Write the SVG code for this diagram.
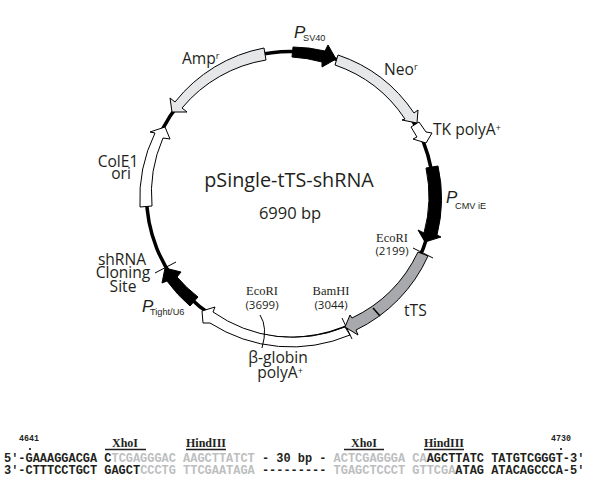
<svg xmlns="http://www.w3.org/2000/svg" width="597" height="498" viewBox="0 0 597 498">
<style>
text{font-family:"Open Sans","Liberation Sans",sans-serif;fill:#231f20;font-size:15.6px}
.c{text-anchor:middle}
.s{font-family:"Liberation Serif",serif;font-size:12.5px}
.n{font-size:11.5px}
.i{font-family:"Liberation Sans",sans-serif;font-style:italic;font-size:17px}
.u{font-family:"Liberation Sans",sans-serif;font-size:9.2px}
.q{font-family:"Liberation Mono",monospace;font-weight:bold;font-size:11.95px;white-space:pre}
.g{fill:#bcbec0}
.e{font-family:"Liberation Serif",serif;font-weight:bold;font-size:12px;text-anchor:middle}
.m{font-family:"Liberation Mono",monospace;font-weight:bold;font-size:8.3px;text-anchor:middle}
.f{stroke:#000;stroke-width:1;stroke-linejoin:miter}
.t{stroke:#000;stroke-width:1;fill:none}
</style>
<g id="connectors">
<circle cx="290" cy="195" r="143.5" fill="none" stroke="#000" stroke-width="3.5"/>
</g>
<g id="beta-globin"><path class="f" fill="#fff" d="M345,327A138,138 0 0 1 213,312L215,307L202,311L203,323L210,323A150,150 0 0 0 350,335Z"/>
<path class="t" d="M260,315Q268,327 262,348"/>
<path class="t" d="M342,318L352,339"/></g>
<g id="neo"><path class="f" fill="#e6e7e8" d="M338,55A149,149 0 0 1 414,113L418,110L417,123L402,120L405,119A138,138 0 0 0 335,65Z"/></g>
<g id="tk-polya"><path class="f" fill="#fff" d="M419,122L426,132L432,133L426,143L413,139L417,137L411,127Z"/></g>
<g id="p-cmv"><path class="f" fill="#000" d="M438,166A150,150 0 0 1 437,235L441,237L425,242L418,230L424,233A138,138 0 0 0 426,168Z"/></g>
<g id="tts"><path class="f" fill="#a7a9ac" d="M418,252A140,140 0 0 1 352,318L350,315L345,327L358,335L356,330A151,151 0 0 0 428,256Z"/>
<path d="M373,308L380,316" stroke="#000" stroke-width="1.5" fill="none"/>
<path class="t" d="M413,248L433,258"/></g>
<g id="p-tight"><path class="f" fill="#000" d="M198,297A138,138 0 0 1 177,277L181,272L165,268L162,283L167,281A150,150 0 0 0 190,306Z"/>
<path class="t" d="M155,273L176,262"/></g>
<g id="cole1"><path class="f" fill="#fff" d="M140,207A150,150 0 0 1 155,133L150,132L165,127L170,139L163,138A138,138 0 0 0 152,206Z"/></g>
<g id="amp"><path class="f" fill="#e6e7e8" d="M264,48A149,149 0 0 0 175,102L170,98L172,112L187,112L182,108A138,138 0 0 1 266,60Z"/></g>
<g id="p-sv40"><path class="f" fill="#000" d="M293,47A148,148 0 0 1 325,51L328,45L336,59L322,67L322,62A138,138 0 0 0 292,57Z"/></g>
<g id="labels">
<text class="c" x="289" y="187" style="font-size:19.8px">pSingle-tTS-shRNA</text>
<text class="c" x="290" y="219" style="font-size:16.5px">6990 bp</text>
<text x="182" y="64">Amp<tspan font-size="9" dy="-5">r</tspan></text>
<text class="i" x="294" y="38">P</text><text class="u" x="303" y="41">SV40</text>
<text x="384" y="75">Neo<tspan font-size="9" dy="-5">r</tspan></text>
<text x="433" y="135">TK polyA<tspan font-size="9" dy="-4">+</tspan></text>
<text class="i" x="446" y="203">P</text><text class="u" x="455" y="209">CMV iE</text>
<text class="s c" x="392" y="242">EcoRI</text><text class="n c" x="392" y="255">(2199)</text>
<text x="404" y="316">tTS</text>
<text class="s c" x="331" y="295">BamHI</text><text class="n c" x="331" y="309">(3044)</text>
<text class="s c" x="262" y="295">EcoRI</text><text class="n c" x="262" y="309">(3699)</text>
<text class="c" x="278" y="363">β-globin</text>
<text class="c" x="280" y="378">polyA<tspan font-size="9" dy="-4">+</tspan></text>
<text class="c" x="118" y="167">ColE1</text><text class="c" x="121" y="179">ori</text>
<text class="c" x="122" y="265">shRNA</text><text class="c" x="123" y="278">Cloning</text><text class="c" x="123" y="292">Site</text>
<text class="i" x="142" y="312">P</text><text class="u" x="150" y="315">Tight/U6</text>
</g>
<g id="sequence">
<text class="m" x="29" y="441">4641</text><circle cx="30" cy="449" r="1" fill="#000"/>
<text class="m" x="561" y="441">4730</text><circle cx="561" cy="449" r="1" fill="#000"/>
<text class="e" x="125" y="447">XhoI</text><text class="e" x="206" y="447">HindIII</text><text class="e" x="364" y="447">XhoI</text><text class="e" x="444" y="447">HindIII</text>
<path d="M105,449.5H146M186,449.5H226M344,449.5H384M424,449.5H464" stroke="#231f20" stroke-width="1.3" fill="none"/>
<text class="q" x="4" y="462">5′-GAAAGGACGA C<tspan class="g">TCGAGGGAC AAGCTTATCT</tspan> - 30 bp - <tspan class="g">ACTCGAGGGA CA</tspan>AGCTTATC TATGTCGGGT-3′</text>
<text class="q" x="4" y="474">3′-CTTTCCTGCT GAGCT<tspan class="g">CCCTG TTCGAATAGA</tspan> --------- <tspan class="g">TGAGCTCCCT GTTCGA</tspan>ATAG ATACAGCCCA-5′</text>
</g>
</svg>
